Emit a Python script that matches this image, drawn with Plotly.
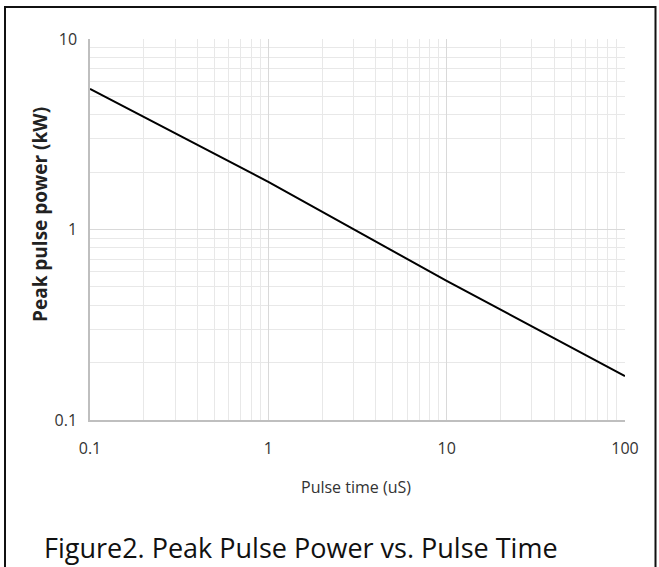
import plotly.graph_objects as go

# Data
pulse_time_us = [0.1, 1, 10, 100]
peak_power_kw = [5.47, 1.78, 0.537, 0.170]

x_tick_vals = [0.1, 1, 10, 100]
x_tick_text = ["0.1", "1", "10", "100"]
y_tick_vals = [0.1, 1, 10]
y_tick_text = ["0.1", "1", "10"]

x_minor = [m * d for d in (0.1, 1, 10) for m in range(2, 10)]
y_minor = [m * d for d in (0.1, 1) for m in range(2, 10)]

W, H = 659, 567
L, R, T, B = 90, 625, 39, 420

fig = go.Figure()
fig.add_trace(go.Scatter(
    x=pulse_time_us, y=peak_power_kw, mode="lines",
    line=dict(color="black", width=2), showlegend=False, hoverinfo="skip"))

tickfont = dict(family="Open Sans, sans-serif", size=16, color="#333333")

fig.update_xaxes(
    type="log", range=[-1, 2], tickmode="array", tickvals=x_tick_vals,
    ticktext=x_tick_text, tickfont=tickfont, ticks="", ticklabelstandoff=13,
    showgrid=True, gridcolor="#d9d9d9", gridwidth=1,
    showline=True, linecolor="#bfbfbf", linewidth=1.5, zeroline=False,
    minor=dict(tickmode="array", tickvals=x_minor, showgrid=True,
               gridcolor="#e8e8e8", gridwidth=1, ticks=""),
)
fig.update_yaxes(
    type="log", range=[-1, 1], tickmode="array", tickvals=y_tick_vals,
    ticktext=y_tick_text, tickfont=tickfont, ticks="", ticklabelstandoff=8,
    showgrid=True, gridcolor="#d9d9d9", gridwidth=1,
    showline=True, linecolor="#bfbfbf", linewidth=1.5, zeroline=False,
    minor=dict(tickmode="array", tickvals=y_minor, showgrid=True,
               gridcolor="#e8e8e8", gridwidth=1, ticks=""),
)

pw, ph = R - L, B - T

def px_x(p):
    return (p - L) / pw

def px_y(p):
    return (B - p) / ph

fig.add_annotation(
    text="Pulse time (uS)", xref="paper", yref="paper",
    x=px_x(356), y=px_y(487), xanchor="center", yanchor="middle", showarrow=False,
    font=dict(family="Open Sans, sans-serif", size=16, color="#333333"))
fig.add_annotation(
    text="<b>Peak pulse power (kW)</b>", xref="paper", yref="paper",
    x=px_x(40), y=px_y(215), xanchor="center", yanchor="middle",
    textangle=-90, showarrow=False,
    font=dict(family="Open Sans, sans-serif", size=19, color="#222222"))
fig.add_annotation(
    text="Figure2. Peak Pulse Power vs. Pulse Time", xref="paper", yref="paper",
    x=px_x(42), y=px_y(547), xanchor="left", yanchor="middle", showarrow=False,
    font=dict(family="Open Sans, sans-serif", size=27, color="#111111"))

fig.add_shape(type="rect", xref="paper", yref="paper",
              x0=px_x(5), x1=px_x(655.5), y0=px_y(7), y1=px_y(600),
              line=dict(color="#111111", width=2), fillcolor="rgba(0,0,0,0)",
              layer="above")

fig.update_layout(
    width=W, height=H, autosize=False,
    margin=dict(l=L, r=W - R, t=T, b=H - B, pad=0),
    paper_bgcolor="white", plot_bgcolor="white",
)

fig.write_html("out.html", config={"displayModeBar": False},
               post_script="document.body.style.margin='0';document.body.style.padding='0';")
